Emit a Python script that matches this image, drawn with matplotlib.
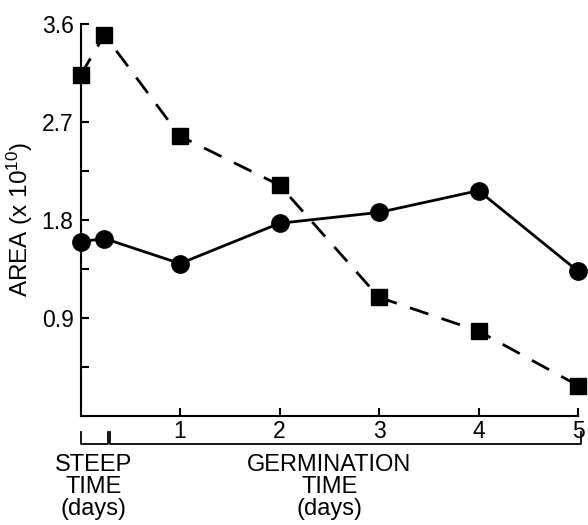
import matplotlib
matplotlib.use("Agg")
import matplotlib.pyplot as plt
import matplotlib.transforms as mtransforms
from matplotlib.ticker import MultipleLocator

plt.rcParams['font.family'] = ['Liberation Sans', 'DejaVu Sans']
plt.rcParams['mathtext.fontset'] = 'custom'
plt.rcParams['mathtext.rm'] = 'Liberation Sans'
plt.rcParams['mathtext.default'] = 'regular'

# steep points sit at day 0 and end of steep, then germination days 1-5
days = [0.0, 0.24, 1, 2, 3, 4, 5]
area_circle = [1.60, 1.63, 1.40, 1.77, 1.87, 2.07, 1.33]
area_square = [3.13, 3.50, 2.57, 2.12, 1.09, 0.78, 0.28]
ytick_vals = [0.9, 1.8, 2.7, 3.6]
xtick_vals = [1, 2, 3, 4, 5]

fig = plt.figure(figsize=(5.88, 5.25), dpi=100)
ax = fig.add_axes([0.137, 0.2076, 0.846, 0.7467])

ax.plot(days, area_circle, color='black', lw=2, marker='o', ms=12.5,
        clip_on=False, zorder=3)
ax.plot(days, area_square, color='black', lw=2, marker='s', ms=12,
        dashes=(7, 5), clip_on=False, zorder=3)

ax.set_xlim(0, 5)
ax.set_ylim(0, 3.6)
ax.spines['top'].set_visible(False)
ax.spines['right'].set_visible(False)
ax.spines['left'].set_linewidth(1.5)
ax.spines['bottom'].set_linewidth(1.5)

ax.set_yticks(ytick_vals)
ax.set_yticklabels([str(v) for v in ytick_vals])
ax.yaxis.set_minor_locator(MultipleLocator(0.45))
ax.set_xticks(xtick_vals)
ax.tick_params(axis='both', which='both', direction='in', width=1.5,
               labelsize=16.5)
ax.tick_params(axis='both', which='major', length=6)
ax.tick_params(axis='y', which='minor', length=6)
ax.tick_params(axis='y', pad=5)
ax.tick_params(axis='x', pad=3)

ax.set_ylabel('AREA (x 10$^{10}$)', fontsize=17.5)
ax.yaxis.set_label_coords(-0.092, 0.5)

# brackets under the x axis
trans = mtransforms.blended_transform_factory(ax.transData, ax.transAxes)
y_lo, y_hi = -0.072, -0.040
for x0, x1 in [(0.0, 0.275), (0.30, 5.03)]:
    ax.plot([x0, x0, x1, x1], [y_hi, y_lo, y_lo, y_hi], color='black',
            lw=1.3, transform=trans, clip_on=False)

ax.text(0.13, -0.097, 'STEEP\nTIME\n(days)', transform=trans,
        ha='center', va='top', fontsize=17, linespacing=1.0)
ax.text(2.5, -0.097, 'GERMINATION\nTIME\n(days)', transform=trans,
        ha='center', va='top', fontsize=17, linespacing=1.0)

fig.savefig('out.png', dpi=100)
